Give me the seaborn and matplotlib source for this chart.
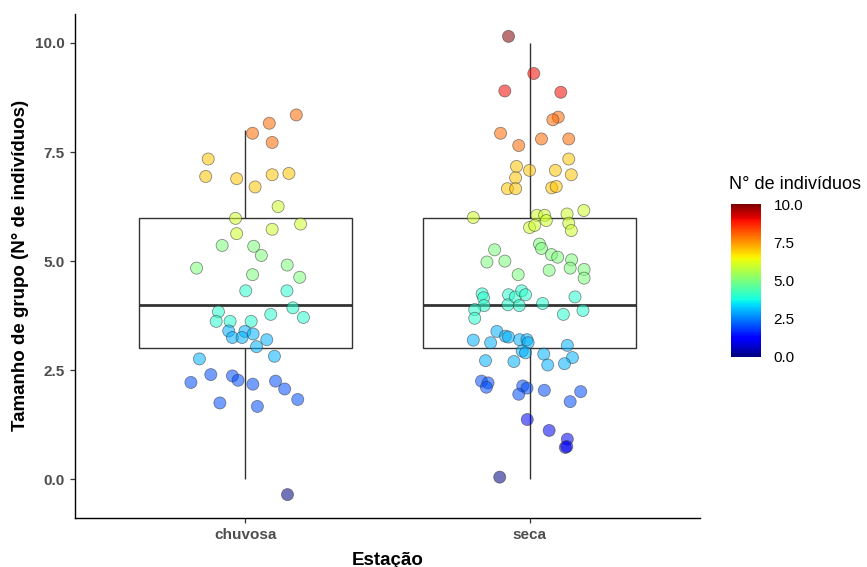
import numpy as np
import pandas as pd
import matplotlib
matplotlib.use("Agg")
import matplotlib.pyplot as plt
import matplotlib.colors as mcolors
import matplotlib.cm as cm
import seaborn as sns

# ---------------- data ----------------
categorias = ["chuvosa", "seca"]

# chuvosa: integer group sizes and the jitter offsets seen in the picture
chuvosa_valor = [8, 8, 8, 8,
                 7, 7, 7, 7, 7, 7,
                 6, 6, 6, 6, 6,
                 5, 5, 5, 5, 5, 5, 5,
                 4, 4, 4, 4, 4, 4, 4, 4, 4,
                 3, 3, 3, 3, 3, 3, 3, 3, 3,
                 2, 2, 2, 2, 2, 2, 2, 2, 2, 2,
                 0]
chuvosa_jx = [0.179, 0.084, 0.025, 0.094,
              -0.131, -0.140, -0.031, 0.094, 0.153, 0.034,
              0.115, -0.035, 0.194, -0.031, 0.094,
              -0.082, 0.029, 0.056, -0.172, 0.147, 0.025, 0.191,
              0.001, 0.146, -0.095, 0.167, 0.089, 0.204, -0.103, -0.054, 0.020,
              -0.059, -0.002, 0.027, -0.046, -0.012, 0.075, 0.039, -0.162, 0.102,
              -0.122, -0.192, -0.046, -0.026, 0.026, 0.106, 0.138, 0.184, -0.090, 0.042,
              0.148]
chuvosa_jy = [0.35, 0.16, -0.07, -0.28,
              0.34, -0.06, -0.11, -0.02, 0.01, -0.30,
              0.25, -0.02, -0.15, -0.37, -0.27,
              0.36, 0.34, 0.13, -0.16, -0.09, -0.31, -0.37,
              0.32, 0.32, -0.16, -0.07, -0.22, -0.29, -0.38, -0.38, -0.38,
              0.40, 0.39, 0.33, 0.25, 0.25, 0.20, 0.04, -0.24, -0.18,
              0.40, 0.22, 0.37, 0.27, 0.18, 0.25, 0.07, -0.17, -0.25, -0.33,
              -0.35]

seca_valor = [10,
              9, 9, 9,
              8, 8, 8, 8, 8, 8,
              7, 7, 7, 7, 7, 7, 7, 7, 7, 7,
              6, 6, 6, 6, 6, 6, 6, 6, 6, 6,
              5, 5, 5, 5, 5, 5, 5, 5, 5, 5, 5, 5, 5,
              4, 4, 4, 4, 4, 4, 4, 4, 4, 4, 4, 4, 4, 4, 4,
              3, 3, 3, 3, 3, 3, 3, 3, 3, 3, 3, 3, 3, 3, 3, 3, 3,
              2, 2, 2, 2, 2, 2, 2, 2, 2,
              1, 1, 1, 1, 1,
              0]
seca_jx = [-0.074,
           0.015, -0.087, 0.110,
           0.101, 0.082, -0.102, -0.038, 0.042, 0.138,
           0.138, -0.046, 0.000, 0.091, 0.147, -0.049, -0.078, -0.049, 0.078, 0.094,
           -0.198, 0.026, 0.053, 0.059, 0.132, 0.191, 0.000, 0.018, 0.138, 0.147,
           -0.123, -0.150, -0.087, -0.040, 0.035, 0.042, 0.077, 0.099, 0.148, 0.143, 0.069, 0.192, 0.192,
           -0.167, -0.162, -0.160, -0.193, -0.193, -0.074, -0.076, -0.050, -0.028, -0.014, -0.036, 0.046, 0.160, 0.188, 0.119,
           -0.198, -0.137, -0.115, -0.085, -0.074, -0.035, -0.009, -0.005, -0.026, -0.014, 0.133, 0.050, 0.151, -0.155, -0.055, 0.064, 0.123,
           -0.169, -0.146, -0.152, -0.024, -0.009, -0.038, 0.052, 0.143, 0.180,
           -0.008, 0.069, 0.133, 0.126, 0.131,
           -0.105]
seca_jy = [0.15,
           0.30, -0.10, -0.13,
           0.30, 0.24, -0.07, -0.35, -0.20, -0.20,
           0.34, 0.17, 0.08, 0.08, -0.02, -0.09, -0.34, -0.34, -0.32, -0.29,
           0.00, 0.05, 0.05, -0.07, 0.08, 0.16, -0.23, -0.18, -0.13, -0.30,
           0.26, -0.02, 0.00, -0.31, 0.39, 0.29, 0.15, 0.09, 0.03, -0.16, -0.21, -0.19, -0.39,
           0.25, 0.16, -0.02, -0.11, -0.31, 0.23, 0.00, 0.18, 0.32, 0.23, -0.02, 0.03, 0.18, -0.13, -0.22,
           0.19, 0.13, 0.39, 0.28, 0.26, 0.20, 0.20, 0.13, -0.06, -0.10, 0.07, -0.13, -0.21, -0.28, -0.30, -0.38, -0.35,
           0.25, 0.21, 0.11, 0.14, 0.09, -0.05, 0.04, -0.22, 0.01,
           0.37, 0.12, -0.08, -0.27, -0.25,
           0.05]

y_ticks = [0.0, 2.5, 5.0, 7.5, 10.0]
cbar_ticks = [0.0, 2.5, 5.0, 7.5, 10.0]

# ---------------- build table ----------------
df = pd.DataFrame({
    "estacao": ["chuvosa"] * len(chuvosa_valor) + ["seca"] * len(seca_valor),
    "valor": chuvosa_valor + seca_valor,
    "jx": chuvosa_jx + seca_jx,
    "jy": chuvosa_jy + seca_jy,
})
df["pos"] = df["estacao"].map({c: i for i, c in enumerate(categorias)})
df["x_jit"] = df["pos"] + df["jx"]
df["y_jit"] = df["valor"] + df["jy"]

# ---------------- figure ----------------
sns.set_theme(style="ticks")
plt.rcParams["font.family"] = ["Liberation Sans", "DejaVu Sans"]

jet = matplotlib.colormaps["jet"]

W, H = 867, 567
fig = plt.figure(figsize=(W / 100, H / 100), dpi=100)
ax = fig.add_axes([75 / W, 1 - 517.5 / H, (700 - 75) / W, (517.5 - 13.5) / H])

line_col = "#333333"
sns.boxplot(data=df, x="pos", y="valor", native_scale=True, width=0.75,
            color="white", linecolor=line_col, linewidth=1.0,
            showfliers=False, showcaps=False,
            medianprops={"linewidth": 2.0, "color": line_col},
            ax=ax, zorder=1)

sns.scatterplot(data=df, x="x_jit", y="y_jit", hue="valor", palette=jet,
                hue_norm=(0, 10), s=75, alpha=0.55, edgecolor="#333333",
                linewidth=0.6, legend=False, ax=ax, zorder=3)

# scales like ggplot (5% expansion of continuous, 0.6 for discrete)
ymin, ymax = df["y_jit"].min(), df["y_jit"].max()
pad = 0.05 * (ymax - ymin)
ax.set_ylim(ymin - pad, ymax + pad)
ax.set_xlim(-0.6, len(categorias) - 1 + 0.6)

ax.set_xticks(range(len(categorias)))
ax.set_xticklabels(categorias)
ax.set_yticks(y_ticks)
ax.set_yticklabels([f"{t:.1f}" for t in y_ticks])

tick_col = "#4D4D4D"
for lab in ax.get_xticklabels() + ax.get_yticklabels():
    lab.set_fontweight("bold")
    lab.set_fontsize(11)
    lab.set_color(tick_col)
ax.tick_params(axis="both", length=3.5, width=0.9, color=line_col, pad=4)

ax.set_xlabel("Estação", fontsize=13.5, fontweight="bold", color="black", labelpad=7)
ax.set_ylabel("Tamanho de grupo (N° de indivíduos)", fontsize=13.5,
              fontweight="bold", color="black", labelpad=4)

for side in ["top", "right"]:
    ax.spines[side].set_visible(False)
for side in ["left", "bottom"]:
    ax.spines[side].set_linewidth(1.0)
    ax.spines[side].set_color("black")

# ---------------- colour bar legend ----------------
cax = fig.add_axes([730.5 / W, 1 - 356.7 / H, 30.5 / W, 152.4 / H])
sm = cm.ScalarMappable(norm=mcolors.Normalize(0, 10), cmap=jet)
cb = fig.colorbar(sm, cax=cax, ticks=cbar_ticks)
cb.outline.set_visible(False)
cb.ax.set_yticklabels([f"{t:.1f}" for t in cbar_ticks])
cb.ax.tick_params(direction="in", color="white", length=6, width=1,
                  left=True, right=True, labelsize=11, labelcolor="black", pad=9)
fig.text(729 / W, 1 - 185 / H, "N° de indivíduos", fontsize=13, ha="left",
         va="center", color="black")

fig.savefig("out.png", dpi=100)
